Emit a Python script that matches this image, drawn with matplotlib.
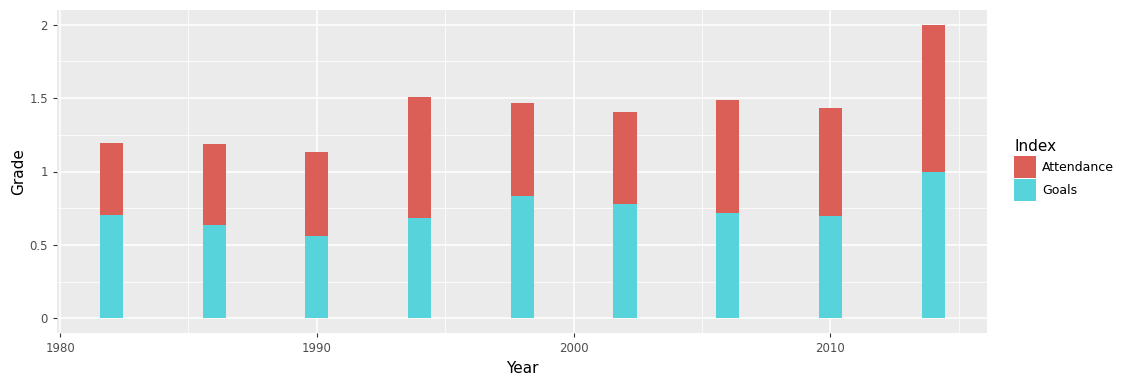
import matplotlib
matplotlib.use("Agg")
import matplotlib.pyplot as plt
from matplotlib.patches import Patch
from matplotlib.ticker import MultipleLocator

years = [1982, 1986, 1990, 1994, 1998, 2002, 2006, 2010, 2014]
goals = [0.707, 0.639, 0.558, 0.680, 0.830, 0.782, 0.714, 0.700, 1.000]
attendance = [0.490, 0.551, 0.578, 0.830, 0.639, 0.626, 0.776, 0.735, 1.000]
series_names = ["Attendance", "Goals"]
colors = {"Attendance": "#db5f57", "Goals": "#57d3db"}

fig = plt.figure(figsize=(11.37, 3.84), dpi=100)
ax = fig.add_axes([57/1137, 51/384, 930/1137, 323/384])
ax.set_facecolor("#ebebeb")
for s in ax.spines.values():
    s.set_visible(False)

ax.xaxis.set_major_locator(MultipleLocator(10))
ax.xaxis.set_minor_locator(MultipleLocator(5))
ax.yaxis.set_major_locator(MultipleLocator(0.5))
ax.yaxis.set_minor_locator(MultipleLocator(0.25))
ax.grid(which="major", color="white", linewidth=1.1)
ax.grid(which="minor", color="white", linewidth=0.55)
ax.set_axisbelow(True)

width = 0.9
ax.bar(years, goals, width=width, color=colors["Goals"], zorder=2)
ax.bar(years, attendance, width=width, bottom=goals, color=colors["Attendance"], zorder=2)

ax.set_xlim(1979.88, 2016.1)
ax.set_ylim(-0.1, 2.1)
ax.set_yticks([0, 0.5, 1, 1.5, 2])
ax.set_yticklabels(["0", "0.5", "1", "1.5", "2"])
ax.tick_params(which="major", colors="#333333", labelcolor="#4d4d4d", labelsize=8.5, length=3, width=0.8)
ax.tick_params(which="minor", length=0)

ax.set_xlabel("Year", fontsize=11, labelpad=4)
ax.set_ylabel("Grade", fontsize=11, labelpad=2)

handles = [Patch(facecolor=colors[n], edgecolor="none", label=n) for n in series_names]
leg = fig.legend(handles=handles, title="Index", loc="upper left",
                 bbox_to_anchor=(1009/1137, 1 - 134/384), frameon=False,
                 fontsize=9, title_fontsize=11, handlelength=1.75, handleheight=2.3,
                 labelspacing=0.15, handletextpad=0.5, borderaxespad=0)
leg._legend_box.align = "left"

fig.savefig("out.png", dpi=100)
